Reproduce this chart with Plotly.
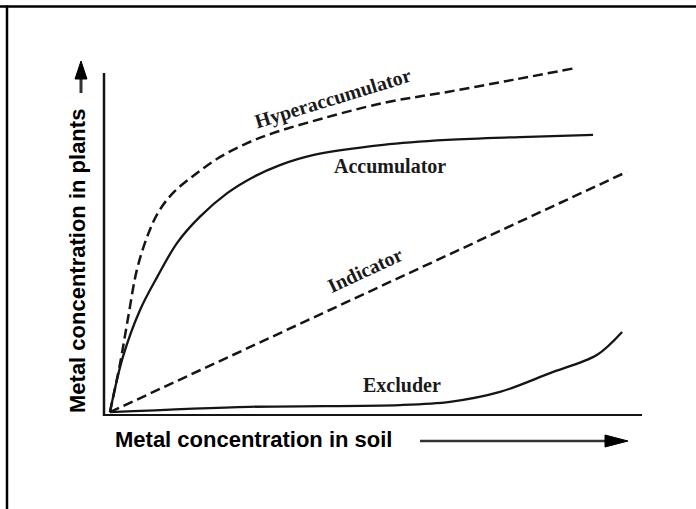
import plotly.graph_objects as go

# ---- data (x = soil concentration, y = plant concentration, 0-100 scale)
hyper_x = [1.1, 3.0, 4.5, 6.1, 8.0, 10.0, 12.8, 17.3, 21.6, 26.6, 31.4, 37.7, 51.9, 63.8, 76.0, 87.5]
hyper_y = [0.8, 14.6, 27.6, 40.8, 50.1, 56.9, 62.5, 68.2, 72.7, 76.6, 79.4, 82.3, 87.9, 91.0, 94.4, 97.7]

accum_x = [1.1, 3.5, 6.7, 9.9, 13.6, 17.8, 22.9, 27.7, 32.7, 38.8, 51.9, 63.8, 77.3, 90.9]
accum_y = [0.8, 16.3, 29.6, 38.9, 48.5, 55.8, 62.5, 67.0, 70.4, 73.2, 76.1, 77.5, 78.3, 78.9]

indic_x = [1.1, 97.2]
indic_y = [0.8, 68.5]

exclu_x = [1.1, 27.1, 55.0, 64.3, 73.6, 82.9, 91.6, 96.3]
exclu_y = [0.8, 2.3, 2.8, 3.7, 6.5, 11.8, 16.9, 23.4]

labels = ["Hyperaccumulator", "Accumulator", "Indicator", "Excluder"]
x_title = "Metal concentration in soil"
y_title = "Metal concentration in plants"

# ---- layout geometry (pixels)
W, H = 696, 509
L, R, T, B = 104, 54, 60, 94
PW, PH = W - L - R, H - T - B


def px(xp):
    return (xp - L) / PW


def py(yp):
    return (H - B - yp) / PH


INK = "#151515"
fig = go.Figure()
fig.add_trace(go.Scatter(x=hyper_x, y=hyper_y, mode="lines", line=dict(color=INK, width=2.5, dash="10px,5px", shape="spline", smoothing=1.0)))
fig.add_trace(go.Scatter(x=accum_x, y=accum_y, mode="lines", line=dict(color=INK, width=2.3, shape="spline", smoothing=1.0)))
fig.add_trace(go.Scatter(x=indic_x, y=indic_y, mode="lines", line=dict(color=INK, width=2.5, dash="10px,5px")))
fig.add_trace(go.Scatter(x=exclu_x, y=exclu_y, mode="lines", line=dict(color=INK, width=2.3, shape="spline", smoothing=0.9)))

shapes = []
# frame (top and left edges)
shapes.append(dict(type="line", xref="paper", yref="paper", x0=px(0), x1=px(W), y0=py(6.5), y1=py(6.5), line=dict(color="black", width=2.5)))
shapes.append(dict(type="line", xref="paper", yref="paper", x0=px(7), x1=px(7), y0=py(5.5), y1=py(H), line=dict(color="black", width=2.5)))
# axes
shapes.append(dict(type="line", xref="paper", yref="paper", x0=px(104), x1=px(104), y0=py(73), y1=py(416), line=dict(color=INK, width=2.5)))
shapes.append(dict(type="line", xref="paper", yref="paper", x0=px(103), x1=px(642), y0=py(415), y1=py(415), line=dict(color=INK, width=2.2)))
# y arrow
shapes.append(dict(type="line", xref="paper", yref="paper", x0=px(81), x1=px(81), y0=py(93), y1=py(74), line=dict(color="#333", width=3)))
shapes.append(dict(type="path", xref="paper", yref="paper",
                   path=f"M {px(81)},{py(61)} L {px(75)},{py(79)} L {px(87)},{py(79)} Z",
                   fillcolor="black", line=dict(color="black", width=1)))
# x arrow
shapes.append(dict(type="line", xref="paper", yref="paper", x0=px(420), x1=px(608), y0=py(441), y1=py(441), line=dict(color="#333", width=2.5)))
shapes.append(dict(type="path", xref="paper", yref="paper",
                   path=f"M {px(628)},{py(441)} L {px(605)},{py(435)} L {px(605)},{py(447)} Z",
                   fillcolor="black", line=dict(color="black", width=1)))

serif = dict(family="Liberation Serif", size=20, color="#1a1a1a")
ann = []


def label(text, xp, yp, angle=0):
    ann.append(dict(text=f"<b>{text}</b>", xref="paper", yref="paper", x=px(xp), y=py(yp),
                    xanchor="center", yanchor="middle", textangle=angle, showarrow=False, font=serif))


label(labels[0], 333, 99, -17)
label(labels[1], 390, 166)
label(labels[2], 365, 270, -25)
label(labels[3], 402, 385)

sans = dict(family="Liberation Sans", size=22, color="black")
ann.append(dict(text=f"<b>{x_title}</b>", xref="paper", yref="paper", x=px(113), y=py(440), xanchor="left", yanchor="middle", showarrow=False, font=sans))
ann.append(dict(text=f"<b>{y_title}</b>", xref="paper", yref="paper", x=px(77), y=py(415), xanchor="center", yanchor="bottom", textangle=-90, showarrow=False, font=sans))

fig.update_layout(
    width=W, height=H,
    margin=dict(l=L, r=R, t=T, b=B),
    paper_bgcolor="white", plot_bgcolor="white",
    showlegend=False,
    xaxis=dict(range=[0, 100], visible=False, fixedrange=True),
    yaxis=dict(range=[0, 100], visible=False, fixedrange=True),
    shapes=shapes,
    annotations=ann,
)

fig.write_html("out.html", config={"displayModeBar": False},
               post_script="document.body.style.margin='0';document.body.style.padding='0';")
